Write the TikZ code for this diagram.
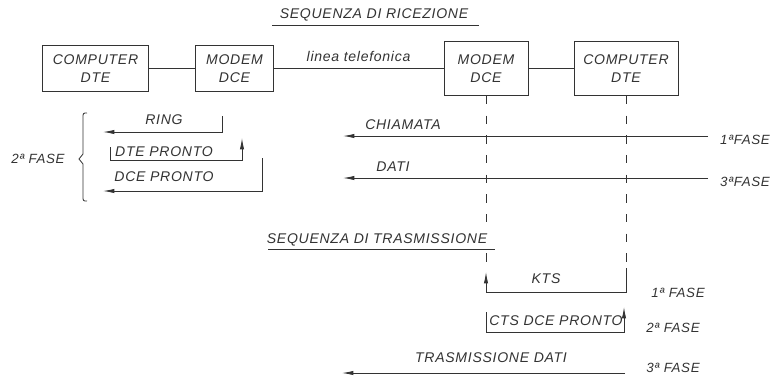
\documentclass[tikz,border=0pt]{standalone}
\usepackage{fontspec}
\setmainfont{Liberation Sans}[LetterSpace=5]
\usetikzlibrary{arrows.meta}

\begin{document}
\begin{tikzpicture}[x=0.025cm, y=-0.025cm, color=black!80,
  every node/.style={font=\itshape\fontsize{10}{13}\selectfont},
  unit/.style={draw, line width=0.6pt, align=center, inner sep=0pt},
  wire/.style={line width=0.6pt},
  sig/.style={line width=0.6pt, -{Latex[length=8pt,width=3pt]}},
  dashline/.style={line width=0.6pt, dash pattern=on 6pt off 8pt},
  fase/.style={font=\itshape\fontsize{9.5}{11}\selectfont}]
\useasboundingbox (0,0) rectangle (780,378);
% unita':
\node[unit, minimum width=2.63cm, minimum height=1.13cm] (cdte1) at (95.5,68.5) {COMPUTER\\DTE};
\node[unit, minimum width=1.93cm, minimum height=1.13cm] (mdce1) at (234.5,68.5) {MODEM\\DCE};
\node[unit, minimum width=2.1cm, minimum height=1.35cm] (mdce2) at (486,68.5) {MODEM\\DCE};
\node[unit, minimum width=2.6cm, minimum height=1.35cm] (cdte2) at (626,68.5) {COMPUTER\\DTE};
\draw[wire] (cdte1) -- (mdce1);
\draw[wire] (mdce1) -- node[above=1pt] {linea telefonica} (mdce2);
\draw[wire] (mdce2) -- (cdte2);
% linee tratteggiate:
\coordinate (dl) at (486,264);
\coordinate (kts-r) at (626,268);
\draw[dashline] (mdce2.south) -- (dl);
\draw[dashline] (cdte2.south) -- (kts-r);
% titoli:
\node (tric) at (374,15) {SEQUENZA DI RICEZIONE};
\draw[wire] (272,25) -- (479,25);
\node[fill=white, inner sep=1pt] (ttra) at (377,240) {SEQUENZA DI TRASMISSIONE};
\draw[wire] (268,249) -- (495,249);
% ricezione, lato sinistro:
\coordinate (ring-r) at (222,116);
\coordinate (ring-l) at (103,132);
\coordinate (dtep-l) at (110,147);
\coordinate (dtep-r) at (242,138);
\coordinate (dcep-r) at (262,158);
\coordinate (dcep-l) at (103,191);
\draw[sig] (ring-r) |- (ring-l);
\draw[sig] (dtep-l) -- ++(0,13) -| (dtep-r);
\draw[sig] (dcep-r) |- (dcep-l);
\node (ring) at (164,120) {RING};
\node (dtep) at (164,152) {DTE PRONTO};
\node (dcep) at (164,177) {DCE PRONTO};
\draw[wire] (87,113) .. controls (83,113) .. (83,118) -- (83,154) -- (79,159)
  -- (83,164) -- (83,196) .. controls (83,201) .. (87,201);
\node[fase] (f2a) at (38,159) {2ª FASE};
% ricezione, lato destro:
\coordinate (chi-r) at (708,136);
\coordinate (chi-l) at (343,136);
\coordinate (dati-r) at (708,178);
\coordinate (dati-l) at (343,178);
\draw[sig] (chi-r) -- (chi-l);
\draw[sig] (dati-r) -- (dati-l);
\node (chi) at (403,125) {CHIAMATA};
\node (dati) at (393,167) {DATI};
\node[fase] (f1b) at (745,140) {1ªFASE};
\node[fase] (f3b) at (745,182) {3ªFASE};
% trasmissione:
\coordinate (kts-l) at (486,272);
\coordinate (cts-l) at (486,312);
\coordinate (cts-r) at (624,307);
\coordinate (tdat-r) at (625,373);
\coordinate (tdat-l) at (342,373);
\draw[sig] (kts-r) -- ++(0,24) -| (kts-l);
\draw[sig] (cts-l) -- ++(0,20) -| (cts-r);
\draw[sig] (tdat-r) -- (tdat-l);
\node (kts) at (546,279) {KTS};
\node (cts) at (556,321) {CTS DCE PRONTO};
\node (tdat) at (491,358) {TRASMISSIONE DATI};
\node[fase] (f1c) at (678,293) {1ª FASE};
\node[fase] (f2c) at (673,328) {2ª FASE};
\node[fase] (f3c) at (673,368) {3ª FASE};
\end{tikzpicture}
\end{document}
